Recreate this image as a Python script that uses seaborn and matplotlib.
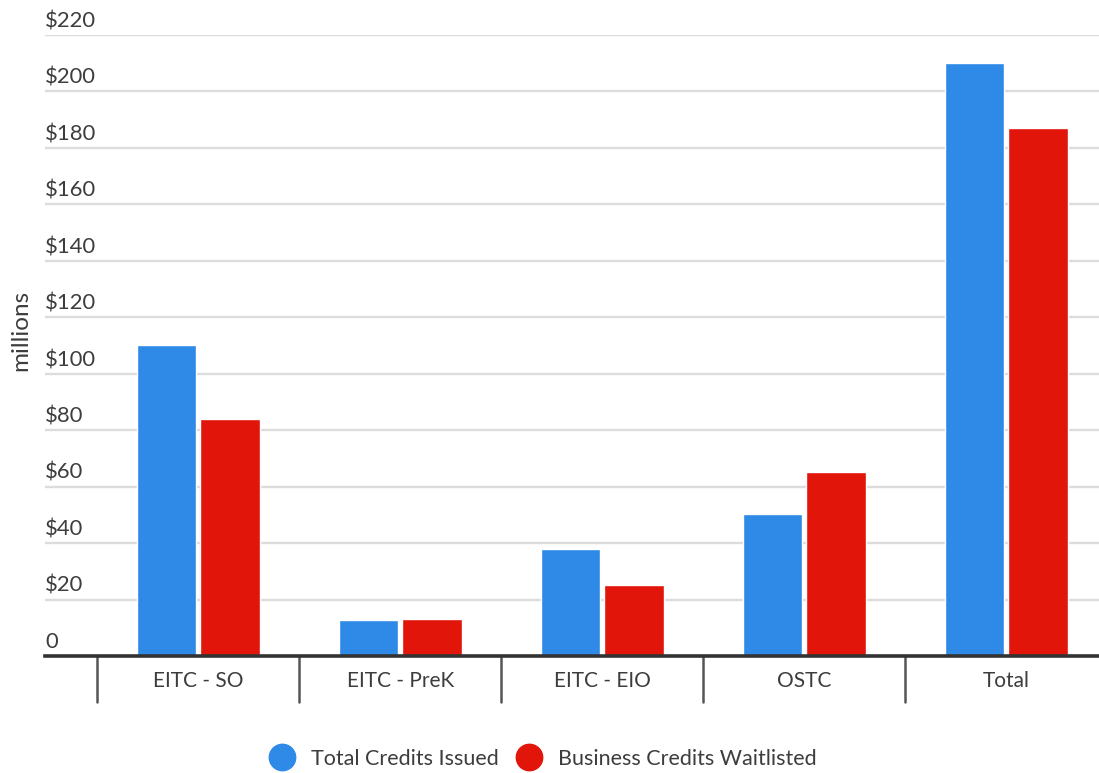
import matplotlib
matplotlib.use("Agg")
import matplotlib.pyplot as plt
from matplotlib.lines import Line2D
from matplotlib.transforms import blended_transform_factory
import pandas as pd
import seaborn as sns

categories = ["EITC - SO", "EITC - PreK", "EITC - EIO", "OSTC", "Total"]
total_issued = [110.2, 12.8, 37.9, 50.3, 210.1]
business_waitlisted = [84.0, 13.1, 25.2, 65.2, 187.1]
series_names = ["Total Credits Issued", "Business Credits Waitlisted"]
y_ticks = [0, 20, 40, 60, 80, 100, 120, 140, 160, 180, 200, 220]
y_tick_labels = ["0", "$20", "$40", "$60", "$80", "$100", "$120", "$140",
                 "$160", "$180", "$200", "$220"]

BLUE = "#2e89e7"
RED = "#e1150a"
TEXT = "#3d3d3d"

sns.set_theme(style="white")
plt.rcParams["font.family"] = ["Lato", "DejaVu Sans"]

df = pd.DataFrame({
    "category": categories * 2,
    "value": total_issued + business_waitlisted,
    "series": [series_names[0]] * len(categories) + [series_names[1]] * len(categories),
})

fig = plt.figure(figsize=(10.99, 7.73), dpi=100)
ax = fig.add_axes([45 / 1099, 1 - 656 / 773, 1 - 45 / 1099, (656 - 35) / 773])

sns.barplot(data=df, x="category", y="value", hue="series",
            palette=[BLUE, RED], width=0.63, gap=0.063,
            saturation=1, legend=False, ax=ax, zorder=3)

ax.set_xlim(-0.758, len(categories) - 1 + 0.459)
ax.set_ylim(0, 220)

# horizontal grid
for v in y_ticks[1:]:
    ax.axhline(v, color="#dcdcdc", lw=1.7, zorder=1)

# y labels sit above their gridlines at the left edge
trans = blended_transform_factory(ax.transAxes, ax.transData)
for v, lab in zip(y_ticks, y_tick_labels):
    ax.text(0.0, v + 1.3, lab, transform=trans, ha="left", va="bottom",
            fontsize=15.8, color=TEXT, clip_on=False)
ax.set_yticks([])
ax.set_ylabel("millions", fontsize=17.5, color=TEXT)
ax.yaxis.set_label_coords(-0.013, 0.525)

# category separators below the baseline
xtrans = blended_transform_factory(ax.transData, ax.transAxes)
for b in [i - 0.5 for i in range(len(categories) + 1)]:
    ax.plot([b, b], [0, -0.074], transform=xtrans, color="#555555",
            lw=1.8, clip_on=False, zorder=4)

ax.set_xlabel("")
ax.tick_params(axis="x", length=0, pad=11, labelsize=15, labelcolor=TEXT)

for s in ["top", "right", "left"]:
    ax.spines[s].set_visible(False)
ax.spines["bottom"].set_color("#333333")
ax.spines["bottom"].set_linewidth(2.6)
ax.spines["bottom"].set_zorder(5)

handles = [Line2D([], [], marker="o", linestyle="none", markersize=19,
                  markerfacecolor=c, markeredgecolor=c) for c in (BLUE, RED)]
fig.legend(handles, series_names, loc="center", bbox_to_anchor=(543 / 1099, 1 - 759 / 773),
           ncol=2, frameon=False, fontsize=15.5, labelcolor=TEXT,
           handletextpad=0.75, columnspacing=0.8, handlelength=1.2)

fig.savefig("out.png", dpi=100)
